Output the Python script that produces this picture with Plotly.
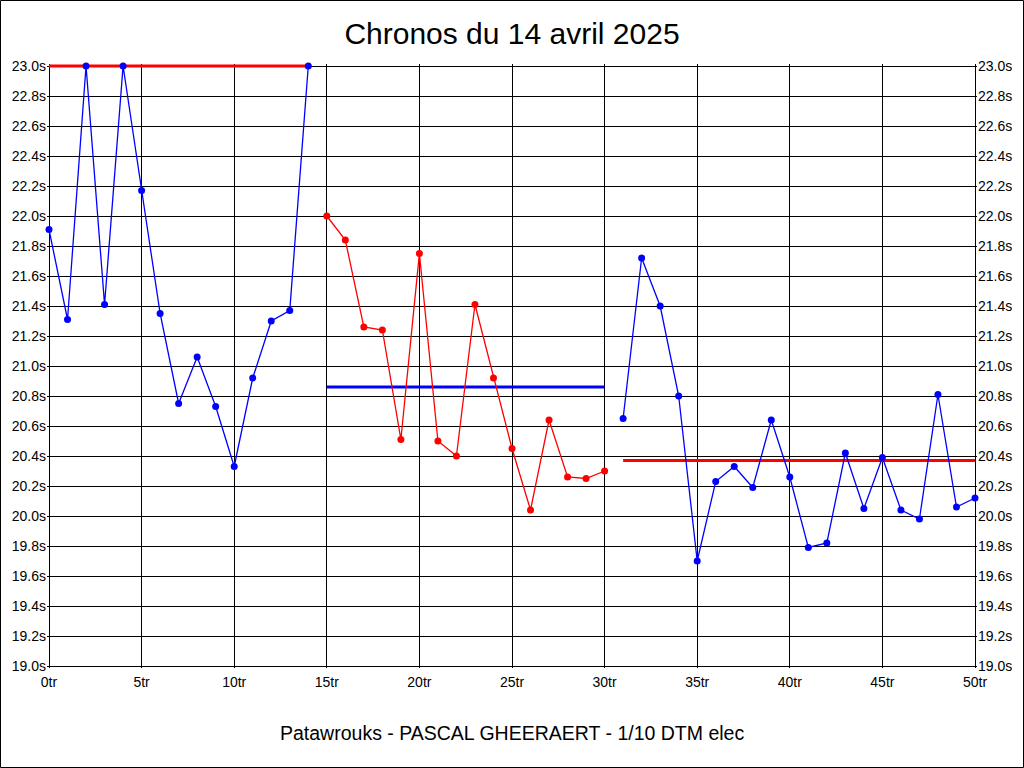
import plotly.graph_objects as go

# --- data ---
laps_1 = list(range(0, 15))
times_1 = [21.91, 21.31, 23.0, 21.41, 23.0, 22.17, 21.35, 20.75, 21.06, 20.73,
           20.33, 20.92, 21.30, 21.37, 23.0]
laps_2 = list(range(15, 31))
times_2 = [22.0, 21.84, 21.26, 21.24, 20.51, 21.75, 20.50, 20.40, 21.41, 20.92,
           20.45, 20.04, 20.64, 20.26, 20.25, 20.30]
laps_3 = list(range(31, 51))
times_3 = [20.65, 21.72, 21.40, 20.80, 19.70, 20.23, 20.33, 20.19, 20.64, 20.26,
           19.79, 19.82, 20.42, 20.05, 20.39, 20.04, 19.98, 20.81, 20.06, 20.12]
# mean lines (first one is clipped at the top of the chart)
mean_values = [23.0, 20.86, 20.37]
series_colors = ["#0000FF", "#FF0000", "#0000FF"]
mean_colors = ["#FF0000", "#0000FF", "#FF0000"]

title_text = "Chronos du 14 avril 2025"
footer_text = "Patawrouks - PASCAL GHEERAERT - 1/10 DTM elec"

y_ticks = [round(19.0 + 0.2 * i, 1) for i in range(21)]
x_ticks = list(range(0, 51, 5))

fig = go.Figure()
series = [(laps_1, times_1), (laps_2, times_2), (laps_3, times_3)]
for (lx, ly), col, mv, mc in zip(series, series_colors, mean_values, mean_colors):
    fig.add_trace(go.Scatter(
        x=[lx[0], lx[-1]], y=[mv, mv], mode="lines",
        line=dict(color=mc, width=3), hoverinfo="skip", showlegend=False))
    fig.add_trace(go.Scatter(
        x=lx, y=ly, mode="lines+markers",
        line=dict(color=col, width=1.3),
        marker=dict(color=col, size=7, symbol="circle"),
        showlegend=False, cliponaxis=False))

# invisible trace for the right-hand axis
fig.add_trace(go.Scatter(x=[0], y=[21], yaxis="y2", mode="markers",
                         marker=dict(opacity=0), hoverinfo="skip", showlegend=False))

pad_x = 2 / 18.52
pad_y = 2 / 150
tick_font = dict(family="Liberation Sans, Arial, sans-serif", size=14, color="black")

fig.update_layout(
    width=1024, height=768,
    paper_bgcolor="white", plot_bgcolor="white",
    margin=dict(l=47, r=47, t=64, b=100),
    title=dict(text=title_text, x=0.5, xanchor="center", y=1 - 33 / 768, yanchor="middle",
               font=dict(family="Liberation Sans, Arial, sans-serif", size=30, color="black")),
    xaxis=dict(range=[0 - pad_x, 50 + pad_x], tickvals=x_ticks,
               ticktext=[f"{v}tr" for v in x_ticks],
               showgrid=True, gridcolor="black", gridwidth=1,
               zeroline=False, showline=False, ticks="", automargin=False,
               ticklabelstandoff=4, tickfont=tick_font),
    yaxis=dict(range=[19.0 - pad_y, 23.0 + pad_y], tickvals=y_ticks,
               ticktext=[f"{v:.1f}s" for v in y_ticks],
               showgrid=True, gridcolor="black", gridwidth=1,
               zeroline=False, showline=False, ticks="", automargin=False,
               tickfont=tick_font),
    yaxis2=dict(range=[19.0 - pad_y, 23.0 + pad_y], tickvals=y_ticks,
                ticktext=[f"{v:.1f}s" for v in y_ticks],
                overlaying="y", side="right", showgrid=False,
                zeroline=False, showline=False, ticks="", automargin=False,
                tickfont=tick_font),
    annotations=[dict(text=footer_text, xref="paper", yref="paper",
                      x=0.5, y=-(732.5 - 668) / 604, xanchor="center", yanchor="middle",
                      showarrow=False,
                      font=dict(family="Liberation Sans, Arial, sans-serif", size=19.5, color="black"))],
    shapes=[dict(type="rect", xref="paper", yref="paper",
                 x0=-46.5 / 930, x1=1 + 46.5 / 930,
                 y0=-99.5 / 604, y1=1 + 63.5 / 604,
                 line=dict(color="black", width=1), fillcolor="rgba(0,0,0,0)")],
)

fig.write_html("out.html", config={"displayModeBar": False},
               post_script="document.body.style.margin='0';document.body.style.overflow='hidden';")
